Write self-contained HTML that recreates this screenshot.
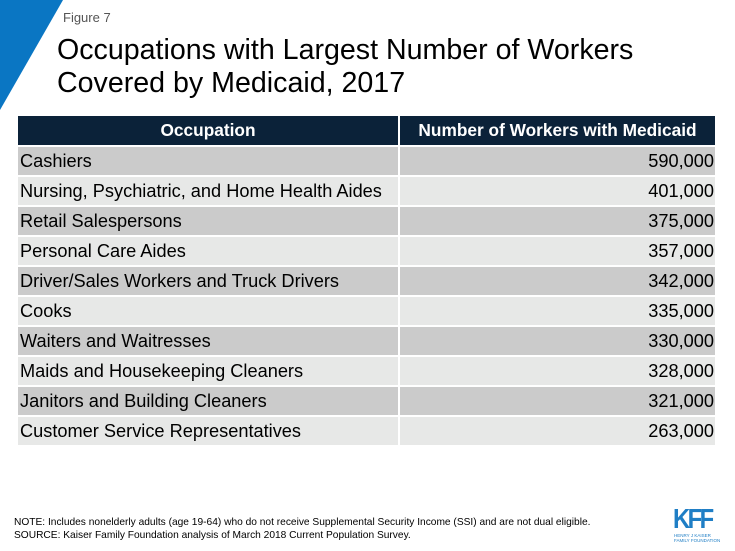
<!DOCTYPE html>
<html><head><meta charset="utf-8"><style>
body{margin:0;width:735px;height:551px;background:#fff;position:relative;overflow:hidden;font-family:"Liberation Sans",Arial,sans-serif;}
#tri{position:absolute;left:0;top:0}
.fig{position:absolute;left:63px;top:10px;font-size:13px;color:#555}
h1{position:absolute;left:57px;top:34px;margin:0;font-weight:normal;font-size:28.6px;line-height:33px;color:#000}
table{position:absolute;left:18px;top:116px;width:699px;border-collapse:collapse}
td,th{height:28px;padding:0 2px;font-size:18.2px;border:2px solid #fff;border-top:0;border-left:0}
th{background:#0b2239;color:#fff;font-weight:bold;font-size:17.3px;height:29px}
td.n{text-align:right;padding-right:1px}
tr.o td{background:#cbcbcb}
tr.e td{background:#e7e8e7}
.note{position:absolute;left:14px;top:517px;font-size:10.2px;line-height:12.5px;color:#000}
.kff{position:absolute;left:673px;top:506px;color:#1f7ec5;font-weight:bold;font-size:28px;letter-spacing:-3px;line-height:26px;transform:scaleX(0.85);transform-origin:left}
.kffs{position:absolute;left:674px;top:533px;color:#1f7ec5;font-size:4.5px;line-height:5px}
</style></head><body>
<svg id="tri" width="70" height="115"><polygon points="0,0 63,0 0,110" fill="#0a76c3"/></svg>
<div class="fig">Figure 7</div>
<h1>Occupations with Largest Number of Workers<br>Covered by Medicaid, 2017</h1>
<table>
<thead><tr><th style="width:376px">Occupation</th><th>Number of Workers with Medicaid</th></tr></thead>
<tbody id="tb"></tbody>
</table>
<div class="note">NOTE: Includes nonelderly adults (age 19-64) who do not receive Supplemental Security Income (SSI) and are not dual eligible.<br>SOURCE: Kaiser Family Foundation analysis of March 2018 Current Population Survey.</div>
<div class="kff">KFF</div>
<div class="kffs">HENRY J KAISER<br>FAMILY FOUNDATION</div>
<script>
const occupations=["Cashiers","Nursing, Psychiatric, and Home Health Aides","Retail Salespersons","Personal Care Aides","Driver/Sales Workers and Truck Drivers","Cooks","Waiters and Waitresses","Maids and Housekeeping Cleaners","Janitors and Building Cleaners","Customer Service Representatives"];
const workers=[590000,401000,375000,357000,342000,335000,330000,328000,321000,263000];
const tb=document.getElementById('tb');
occupations.forEach((o,i)=>{
  const tr=document.createElement('tr');
  tr.className=i%2?'e':'o';
  
  
  const a=document.createElement('td');
  a.textContent=o;
  
  
  const b=document.createElement('td');
  b.className='n';
  b.textContent=workers[i].toLocaleString('en-US');
  
  
  tr.appendChild(a);tr.appendChild(b);tb.appendChild(tr);
});
</script>
</body></html>
